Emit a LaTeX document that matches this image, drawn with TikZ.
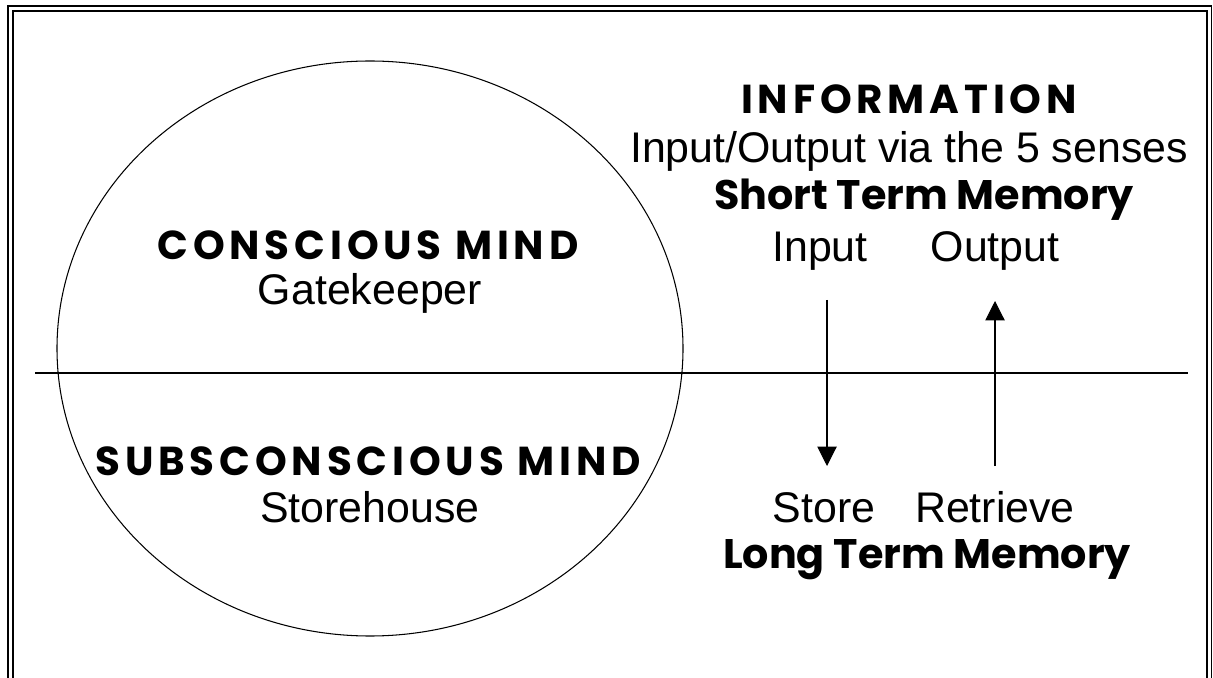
\documentclass[tikz,border=0pt]{standalone}
\usepackage{fontspec}
\setmainfont{Liberation Sans}
\newfontfamily\comic{Poppins}
\usetikzlibrary{arrows.meta}

\tikzset{
    head/.style={anchor=base, inner sep=0pt, font=\comic\bfseries\fontsize{23.5}{28}\selectfont},
    caps/.style={head, font=\comic\bfseries\fontsize{23}{26}\selectfont\addfontfeature{LetterSpace=12}},
    plain/.style={anchor=base, inner sep=0pt, font=\fontsize{24.4}{28}\selectfont},
    arr/.style={line width=0.6pt, -{Triangle[width=11pt,length=11pt]}}
}

\begin{document}
\begin{tikzpicture}[x=0.02cm,y=-0.02cm]
    \useasboundingbox (0,0) rectangle (1213,678);
    % double frame, open at the bottom
    \draw[line width=0.9pt] (8,678) -- (8,6) -- (1211.5,6) -- (1211.5,678);
    \draw[line width=1.1pt] (13,678) -- (13,11) -- (1207,11) -- (1207,678);
    % the mind and the dividing line
    \draw[line width=0.6pt] (370,348.5) ellipse [x radius=313, y radius=287.5];
    \draw[line width=0.9pt] (35,373) -- (1188,373);

    \node[caps]  (conscious) at (368,260) {CONSCIOUS MIND};
    \node[plain] (gate)      at (370,305) {Gatekeeper};
    \node[caps]  (subcon)    at (368,476) {SUBSCONSCIOUS MIND};
    \node[plain] (store)     at (370,522) {Storehouse};

    \node[caps]  (info)   at (909,114) {INFORMATION};
    \node[plain] (senses) at (909,163) {Input/Output via the 5 senses};
    \node[head]  (stm)    at (924,210) {Short Term Memory};
    \node[plain] (input)  at (820,262) {Input};
    \node[plain] (output) at (995,262) {Output};
    \node[plain] (storeit)  at (824,522) {Store};
    \node[plain] (retrieve) at (995,522) {Retrieve};
    \node[head]  (ltm)    at (927,568) {Long Term Memory};

    \coordinate (downtop) at (827,300);
    \coordinate (downend) at (827,466);
    \coordinate (uptop)   at (995,301);
    \coordinate (upend)   at (995,466);
    \draw[arr] (downtop) -- (downend);
    \draw[arr] (upend) -- (uptop);
\end{tikzpicture}
\end{document}
